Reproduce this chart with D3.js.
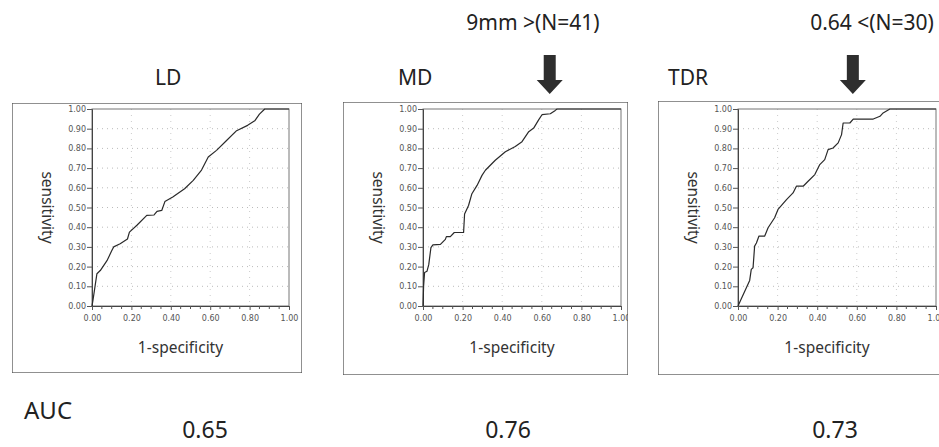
<!DOCTYPE html>
<html>
<head>
<meta charset="utf-8">
<script src="https://cdn.jsdelivr.net/npm/d3@7"></script>
<style>
  body { margin: 0; background: #fff; }
  svg { display: block; }
</style>
</head>
<body>
<svg id="chart" width="939" height="447"></svg>
<script>
// ROC curves (1-specificity, sensitivity)
const ldFpr  = [0, 0.005, 0.025, 0.042, 0.076, 0.10, 0.11, 0.143, 0.18, 0.19, 0.228, 0.278, 0.315, 0.33, 0.354, 0.37, 0.41, 0.47, 0.514, 0.556, 0.59, 0.632, 0.683, 0.734, 0.79, 0.826, 0.85, 0.877, 1];
const ldTpr  = [0, 0.03, 0.164, 0.18, 0.23, 0.28, 0.30, 0.316, 0.34, 0.375, 0.41, 0.46, 0.462, 0.48, 0.485, 0.53, 0.553, 0.595, 0.638, 0.69, 0.756, 0.79, 0.84, 0.89, 0.917, 0.94, 0.974, 1, 1];

const mdFpr  = [0, 0.003, 0.003, 0.008, 0.02, 0.029, 0.04, 0.05, 0.088, 0.113, 0.118, 0.138, 0.158, 0.205, 0.21, 0.23, 0.247, 0.273, 0.298, 0.315, 0.365, 0.416, 0.466, 0.5, 0.534, 0.559, 0.584, 0.601, 0.643, 0.668, 0.677, 1];
const mdTpr  = [0, 0.10, 0.10, 0.17, 0.176, 0.21, 0.296, 0.31, 0.313, 0.338, 0.352, 0.352, 0.373, 0.373, 0.467, 0.51, 0.57, 0.612, 0.663, 0.689, 0.74, 0.783, 0.81, 0.834, 0.885, 0.903, 0.945, 0.971, 0.976, 0.993, 1, 1];

const tdrFpr = [0, 0.059, 0.067, 0.076, 0.084, 0.093, 0.106, 0.135, 0.152, 0.185, 0.202, 0.245, 0.278, 0.295, 0.329, 0.354, 0.388, 0.413, 0.438, 0.455, 0.48, 0.506, 0.523, 0.531, 0.565, 0.582, 0.683, 0.717, 0.733, 0.767, 1];
const tdrTpr = [0, 0.13, 0.186, 0.194, 0.304, 0.32, 0.355, 0.355, 0.397, 0.448, 0.49, 0.54, 0.574, 0.608, 0.608, 0.633, 0.667, 0.718, 0.743, 0.794, 0.802, 0.828, 0.87, 0.929, 0.929, 0.949, 0.949, 0.963, 0.98, 1, 1];

const panelNames = ["LD", "MD", "TDR"];
const aucValues = ["0.65", "0.76", "0.73"];
const cutoffLabels = [null, "9mm >(N=41)", "0.64 <(N=30)"];
const cutoffFpr = [null, 0.64, 0.58];

const yTickValues = [0, 0.1, 0.2, 0.3, 0.4, 0.5, 0.6, 0.7, 0.8, 0.9, 1.0];
const xTickValues = [0, 0.2, 0.4, 0.6, 0.8, 1.0];
const xMinorTicks = [0.05, 0.1, 0.15, 0.25, 0.3, 0.35, 0.45, 0.5, 0.55, 0.65, 0.7, 0.75, 0.85, 0.9, 0.95];
const xGridValues = [0.2, 0.4, 0.6, 0.8];

const series = [
  ldFpr.map((d, i) => [d, ldTpr[i]]),
  mdFpr.map((d, i) => [d, mdTpr[i]]),
  tdrFpr.map((d, i) => [d, tdrTpr[i]])
];

// layout of the three panels
const layout = [
  {box: {x: 12, y: 103, w: 290, h: 270}, left: 92,  right: 289, title: 155, cutX: 0,   aucX: 205},
  {box: {x: 343, y: 102, w: 285, h: 273}, left: 423, right: 621, title: 398, cutX: 533, aucX: 508},
  {box: {x: 658, y: 101, w: 300, h: 274}, left: 738, right: 936, title: 668, cutX: 872, aucX: 835}
];
const plotTop = 109, plotBottom = 306;

const svg = d3.select("#chart");
const font = "'Noto Sans', sans-serif";

layout.forEach((L, i) => {
  const x = d3.scaleLinear().domain([0, 1]).range([L.left, L.right]);
  const y = d3.scaleLinear().domain([0, 1]).range([plotBottom, plotTop]);

  const clipId = "clip" + i;
  svg.append("clipPath").attr("id", clipId)
    .append("rect").attr("x", L.box.x).attr("y", L.box.y).attr("width", L.box.w).attr("height", L.box.h);

  const g = svg.append("g").attr("clip-path", `url(#${clipId})`);

  // outer box
  g.append("rect")
    .attr("x", L.box.x).attr("y", L.box.y)
    .attr("width", L.box.w).attr("height", L.box.h)
    .attr("fill", "#fff")
    .attr("stroke", "#555")
    .attr("stroke-width", 1.3);

  // grid
  g.append("g").selectAll("line").data(yTickValues.slice(1, -1)).join("line")
    .attr("x1", L.left).attr("x2", L.right)
    .attr("y1", d => y(d)).attr("y2", d => y(d))
    .attr("stroke", "#bbb").attr("stroke-dasharray", "1,4");
  g.append("g").selectAll("line").data(xGridValues).join("line")
    .attr("x1", d => x(d)).attr("x2", d => x(d))
    .attr("y1", plotTop).attr("y2", plotBottom)
    .attr("stroke", "#ccc").attr("stroke-dasharray", "1,5");

  // plot frame
  g.append("rect")
    .attr("x", L.left).attr("y", plotTop)
    .attr("width", L.right - L.left).attr("height", plotBottom - plotTop)
    .attr("fill", "none").attr("stroke", "#777").attr("stroke-width", 1);

  // y axis
  const yAxis = g.append("g")
    .attr("transform", `translate(${L.left},0)`)
    .call(d3.axisLeft(y).tickValues(yTickValues).tickFormat(d3.format(".2f")).tickSize(5).tickPadding(1));
  yAxis.select(".domain").attr("stroke", "#444");
  yAxis.selectAll(".tick line").attr("stroke", "#555");
  yAxis.selectAll("text").attr("font-family", "'DejaVu Sans', sans-serif").attr("font-size", 8).attr("fill", "#555");

  // x axis
  const xAxis = g.append("g")
    .attr("transform", `translate(0,${plotBottom})`)
    .call(d3.axisBottom(x).tickValues(xTickValues).tickFormat(d3.format(".2f")).tickSize(4).tickPadding(5));
  xAxis.select(".domain").attr("stroke", "#444");
  xAxis.selectAll(".tick line").attr("stroke", "#555");
  xAxis.selectAll("text").attr("font-family", "'DejaVu Sans', sans-serif").attr("font-size", 8).attr("fill", "#555");
  g.append("g").selectAll("line").data(xMinorTicks).join("line")
    .attr("x1", d => x(d)).attr("x2", d => x(d))
    .attr("y1", plotBottom).attr("y2", plotBottom + 3)
    .attr("stroke", "#555");

  // curve
  g.append("path")
    .datum(series[i])
    .attr("fill", "none")
    .attr("stroke", "#2a2a2a")
    .attr("stroke-width", 1.2)
    .attr("stroke-linejoin", "round")
    .attr("d", d3.line().x(d => x(d[0])).y(d => y(d[1])));

  // axis titles
  g.append("text")
    .attr("x", (L.left + L.right) / 2 - 10).attr("y", 353)
    .attr("text-anchor", "middle")
    .attr("font-family", font).attr("font-size", 15.5).attr("fill", "#333")
    .text("1-specificity");
  g.append("text")
    .attr("transform", `translate(${L.box.x + 30},${(plotTop + plotBottom) / 2}) rotate(90)`)
    .attr("text-anchor", "middle")
    .attr("font-family", font).attr("font-size", 15.5).attr("fill", "#333")
    .text("sensitivity");

  // panel title
  svg.append("text")
    .attr("x", L.title).attr("y", 85)
    .attr("font-family", font).attr("font-size", 21).attr("fill", "#222")
    .text(panelNames[i]);

  // cut-off marker
  if (cutoffLabels[i]) {
    const ax = x(cutoffFpr[i]);
    svg.append("path")
      .attr("d", `M${ax - 6},55 H${ax + 6} V80 H${ax + 13} L${ax},94 L${ax - 13},80 H${ax - 6} Z`)
      .attr("fill", "#2e2e2e");
    svg.append("text")
      .attr("x", L.cutX).attr("y", 30)
      .attr("text-anchor", "middle")
      .attr("font-family", font).attr("font-size", 21).attr("fill", "#222")
      .text(cutoffLabels[i]);
  }

  // AUC value
  svg.append("text")
    .attr("x", L.aucX).attr("y", 438)
    .attr("text-anchor", "middle")
    .attr("font-family", font).attr("font-size", 23).attr("fill", "#222")
    .text(aucValues[i]);
});

svg.append("text")
  .attr("x", 24).attr("y", 419)
  .attr("font-family", font).attr("font-size", 24).attr("fill", "#222")
  .text("AUC");
</script>
</body>
</html>
